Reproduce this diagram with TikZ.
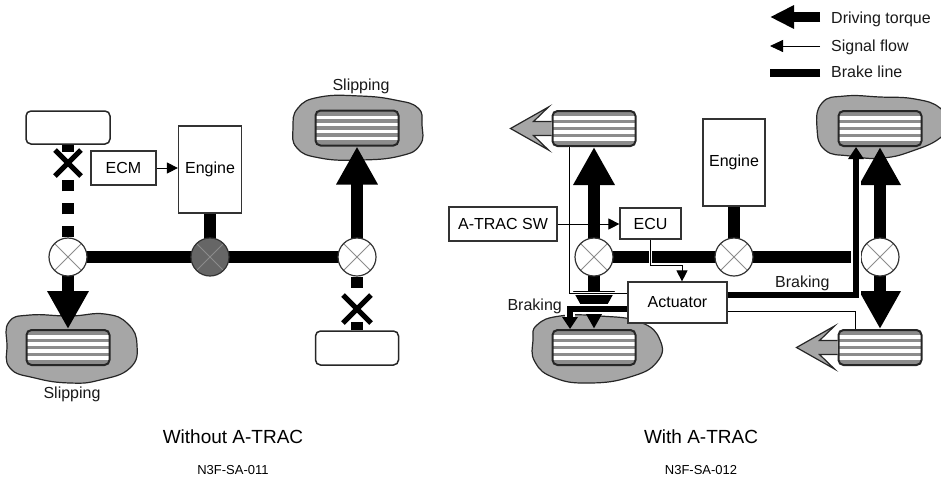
\documentclass[tikz,border=0pt]{standalone}
\usepackage{fontspec}
\setmainfont{Liberation Sans}
\usetikzlibrary{arrows.meta}

\newcommand{\diagfont}{\fontsize{16}{18}\selectfont}
\newcommand{\captionfnt}{\fontsize{19}{22}\selectfont}
\newcommand{\idfont}{\fontsize{13}{15}\selectfont}

\tikzset{
  box/.style={draw=black!80, line width=1.2pt, fill=white, inner sep=0pt, font=\diagfont},
  blank/.style={draw=black!85, line width=1.5pt, rounded corners=5pt, fill=white, inner sep=0pt},
  tyre/.style={draw=black!85, line width=2pt, rounded corners=5pt, fill=black!45,
    minimum width=83pt, minimum height=35pt, inner sep=0pt,
    path picture={\foreach \k in {-10.5,-3.5,3.5,10.5}
      \draw[white, line width=3.5pt] ([yshift=\k pt]path picture bounding box.west) -- ([yshift=\k pt]path picture bounding box.east);}},
  diff/.style={circle, draw=black!80, line width=1.2pt, fill=white, minimum size=38pt, inner sep=0pt,
    path picture={\draw[black!45, line width=0.8pt] (path picture bounding box.north west) -- (path picture bounding box.south east)
      (path picture bounding box.south west) -- (path picture bounding box.north east);}},
  patch/.style={fill=black!35, draw=black!85, line width=1.2pt},
  chevron/.style={fill=black!35, draw=black!85, line width=1.2pt},
  shaft/.style={line width=12pt},
  torque/.style={shaft, -{Triangle[width=39pt,length=38pt]}},
  signal/.style={line width=0.9pt, -{Triangle[width=11pt,length=11pt]}},
  halo/.style={preaction={draw=white, line width=3pt, -}},
  sensor/.style={line width=0.9pt, halo},
  brake/.style={line width=6pt, -{Triangle[width=15pt,length=12pt]},
    preaction={draw=white, line width=10pt, -, shorten >=12pt}},
  cut/.style={line width=5pt},
  txt/.style={inner sep=0pt, font=\diagfont, text=black!90},
}

\begin{document}
\begin{tikzpicture}[x=1pt, y=-1pt]
\useasboundingbox (0,0) rectangle (941,483);

%%% without A-TRAC
\filldraw[patch] plot[smooth cycle, tension=0.8] coordinates {(9,322) (30,315) (70,316) (105,314) (128,324) (137,345) (130,368) (100,380) (70,383) (35,378) (10,368) (7,345)};
\filldraw[patch] plot[smooth cycle, tension=0.8] coordinates {(298,108) (320,97) (360,96) (395,100) (418,108) (422,125) (420,145) (400,156) (360,160) (320,158) (297,148) (293,128)};

\node[blank, minimum width=84pt, minimum height=33pt] (tlb) at (68,127.5) {};
\node[tyre] (blw) at (68,347.5) {};
\node[tyre] (trw) at (357,128) {};
\node[blank, minimum width=83pt, minimum height=34pt] (brb) at (357,348) {};
\node[box, minimum width=65pt, minimum height=34pt] (ecm) at (123.5,168) {ECM};
\node[box, minimum width=63pt, minimum height=87pt] (eng) at (210,169.5) {Engine};

\coordinate (lc) at (68,257);
\coordinate (mc) at (210,257);
\coordinate (rc) at (357,257);
\draw[shaft] (lc) -- (rc); % axle
\draw[shaft] (eng.south) -- (mc);
\draw[torque] (lc) -- (blw.north);
\draw[torque] (rc) -- (trw.south);
\node[diff] (ldiff) at (lc) {};
\node[diff, fill=black!60] (cdiff) at (mc) {};
\node[diff] (rdiff) at (rc) {};

% no torque to the other two wheels
\draw[shaft, dash pattern=on 11pt off 12pt] (ldiff.north) -- ++(0,-58);
\draw[shaft] (tlb.south) -- ++(0,7);
\draw[shaft] (rdiff.south) -- ++(0,11);
\draw[shaft] (brb.north) -- ++(0,-8);
\coordinate (lcut) at (68,163);
\coordinate (rcut) at (357,309);
\draw[cut] (lcut) +(-13,-13) -- +(13,13) +(-13,13) -- +(13,-13);
\draw[cut] (rcut) +(-14,-14) -- +(14,14) +(-14,14) -- +(14,-14);

\draw[signal] (ecm.east) -- (ecm.east -| eng.west);

\node[txt, anchor=base] (slipbl) at (72,398) {Slipping};
\node[txt, anchor=base] (sliptr) at (361,90) {Slipping};
\node[font=\captionfnt] (cap1) at (233,437) {Without A-TRAC};
\node[font=\idfont] (id1) at (233,470) {N3F-SA-011};

%%% with A-TRAC
\filldraw[patch] plot[smooth cycle, tension=0.8] coordinates {(822,103) (845,96) (880,97) (915,99) (940,108) (948,125) (940,138) (915,150) (883,158) (850,156) (825,150) (817,128)};
\filldraw[patch] plot[smooth cycle, tension=0.8] coordinates {(537,325) (560,316) (600,316) (640,322) (660,340) (657,362) (630,377) (590,383) (555,378) (535,362) (533,340)};

\node[tyre] (tlw) at (594,128.5) {};
\node[tyre] (trw2) at (880,128.5) {};
\node[tyre] (blw2) at (594,347.5) {};
\node[tyre] (brw) at (880,347.5) {};

% front wheels pulling forward
\filldraw[chevron] ([yshift=7pt]tlw.west) -- ++(-18,0) -- ++(15,-14.5) -- ++(-38,21.5) -- ++(38,21.5) -- ++(-15,-14.5) -- ++(18,0);
\filldraw[chevron] ([yshift=7pt]brw.west) -- ++(-18,0) -- ++(15,-14.5) -- ++(-38,21.5) -- ++(38,21.5) -- ++(-15,-14.5) -- ++(18,0);

\node[box, minimum width=108pt, minimum height=34pt] (sw) at (503,224) {A-TRAC SW};
\node[box, minimum width=61pt, minimum height=31pt] (ecu) at (650.5,223.5) {ECU};
\node[box, minimum width=62pt, minimum height=87pt] (eng2) at (734,162.5) {Engine};
\node[box, minimum width=99pt, minimum height=41pt] (act) at (677.5,302.5) {Actuator};

\coordinate (lc2) at (594,257);
\coordinate (mc2) at (734,257);
\coordinate (rc2) at (880,257);
\draw[shaft] (lc2) -- (rc2);
\draw[shaft] (eng2.south) -- (mc2);
\draw[torque] (lc2) -- (tlw.south);
\draw[torque] (lc2) -- (blw2.north);
\draw[torque] (rc2) -- (trw2.south);
\draw[torque] (rc2) -- (brw.north);
\node[diff] (ldiff2) at (lc2) {};
\node[diff] (cdiff2) at (mc2) {};
\node[diff] (rdiff2) at (rc2) {};

% speed sensors
\draw[sensor] ([xshift=-25pt]tlw.south) |- ([yshift=9.5pt]act.west);
\draw[sensor] ([yshift=-8.5pt]act.east) -| ([xshift=-25pt]brw.north);
% brake lines
\draw[brake] ([yshift=7.5pt]act.east) -| ([xshift=-24pt]trw2.south);
\draw[brake] ([yshift=-6.5pt]act.west) -| ([xshift=-24pt]blw2.north);
% signals
\draw[signal] (sw.east) -- (sw.east -| ecu.west);
\draw[signal, halo] (ecu.south) -- ++(0,26) -| ([xshift=4.5pt]act.north);

\node[txt, anchor=base west] (brkr) at (775,287) {Braking};
\node[txt, anchor=base east] (brkl) at (562,310) {Braking};
\node[font=\captionfnt] (cap2) at (701,437) {With A-TRAC};
\node[font=\idfont] (id2) at (701,470) {N3F-SA-012};

% legend
\coordinate (keytorque) at (820,17);
\coordinate (keysignal) at (820,46);
\coordinate (keybrake) at (820,73);
\draw[line width=10pt, -{Triangle[width=22pt,length=24pt]}] (keytorque) -- ++(-50,0);
\draw[line width=0.9pt, -{Triangle[width=12pt,length=13pt]}] (keysignal) -- ++(-50,0);
\draw[line width=8pt] (keybrake) -- ++(-50,0);
\node[txt, anchor=base west] (keytorquetxt) at (831,23) {Driving torque};
\node[txt, anchor=base west] (keysignaltxt) at (831,51) {Signal flow};
\node[txt, anchor=base west] (keybraketxt) at (831,77.5) {Brake line};
\end{tikzpicture}
\end{document}
